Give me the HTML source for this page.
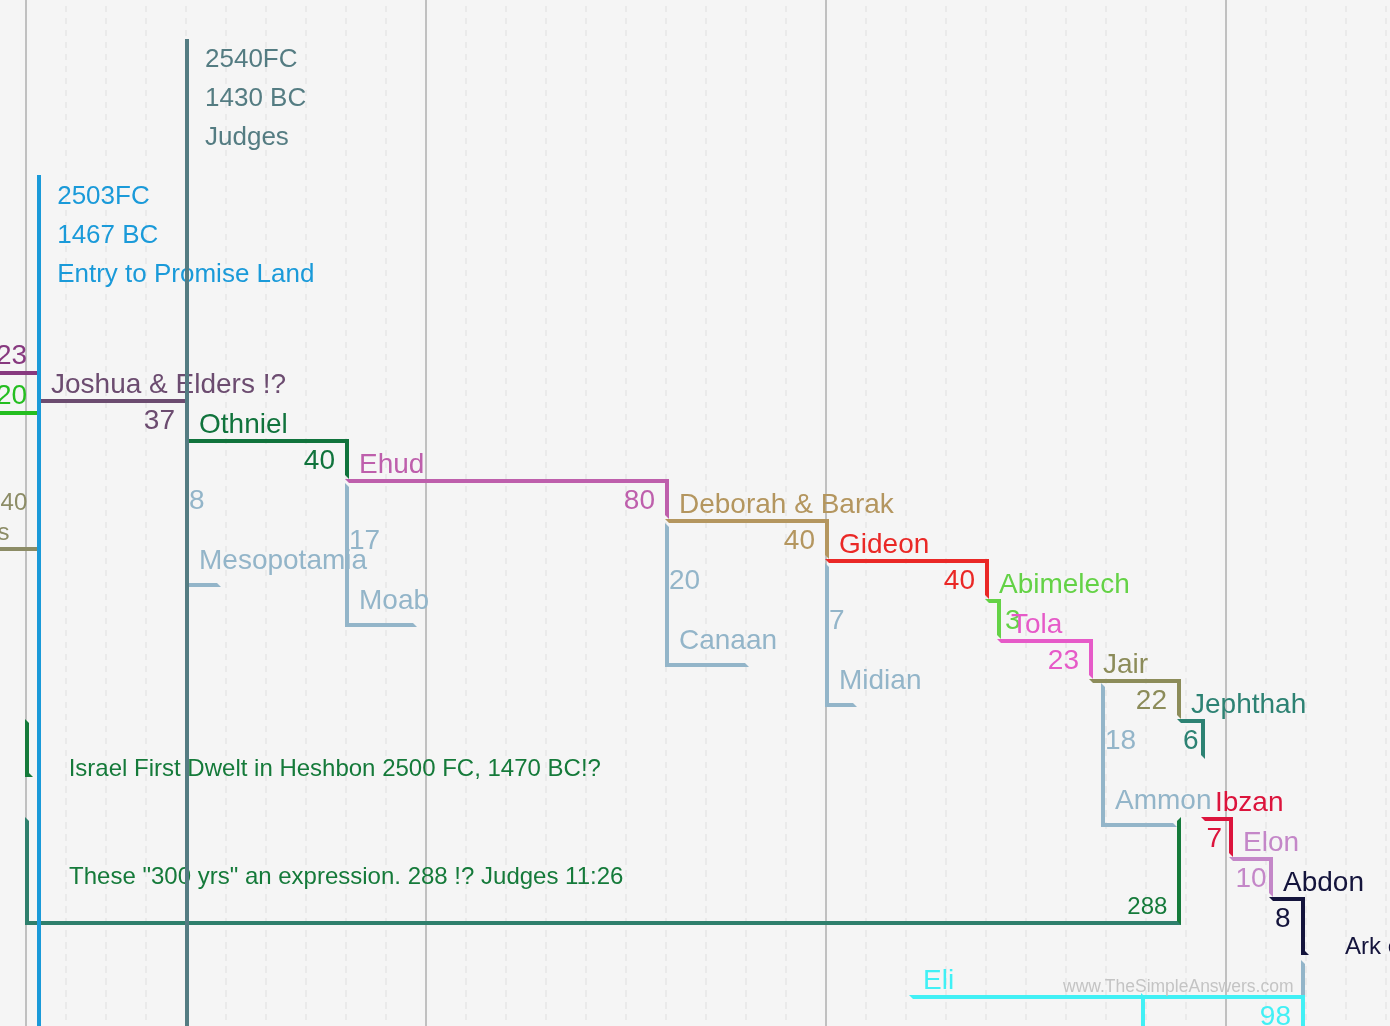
<!DOCTYPE html>
<html><head><meta charset="utf-8"><title>Judges Timeline</title>
<style>
html,body{margin:0;padding:0}
body{background:#f5f5f5;font-family:"Liberation Sans", Arial, sans-serif}
#c{position:relative;width:1390px;height:1026px;overflow:hidden;background:#f5f5f5}
.t{position:absolute;white-space:nowrap}
.b{position:absolute;box-sizing:border-box}
.v{position:absolute;width:4px;bottom:0}
.gs{position:absolute;top:0;bottom:0;width:2px;background:#c0c0c0}
.gd{position:absolute;top:5.5px;bottom:0;width:2px;background:repeating-linear-gradient(to bottom,#eaeaea 0,#eaeaea 6.5px,transparent 6.5px,transparent 12px)}
</style></head><body><div id="c">
<div class="gs" style="left:25px"></div>
<div class="gd" style="left:65px"></div>
<div class="gd" style="left:105px"></div>
<div class="gd" style="left:145px"></div>
<div class="gd" style="left:185px"></div>
<div class="gd" style="left:225px"></div>
<div class="gd" style="left:265px"></div>
<div class="gd" style="left:305px"></div>
<div class="gd" style="left:345px"></div>
<div class="gd" style="left:385px"></div>
<div class="gs" style="left:425px"></div>
<div class="gd" style="left:465px"></div>
<div class="gd" style="left:505px"></div>
<div class="gd" style="left:545px"></div>
<div class="gd" style="left:585px"></div>
<div class="gd" style="left:625px"></div>
<div class="gd" style="left:665px"></div>
<div class="gd" style="left:705px"></div>
<div class="gd" style="left:745px"></div>
<div class="gd" style="left:785px"></div>
<div class="gs" style="left:825px"></div>
<div class="gd" style="left:865px"></div>
<div class="gd" style="left:905px"></div>
<div class="gd" style="left:945px"></div>
<div class="gd" style="left:985px"></div>
<div class="gd" style="left:1025px"></div>
<div class="gd" style="left:1065px"></div>
<div class="gd" style="left:1105px"></div>
<div class="gd" style="left:1145px"></div>
<div class="gd" style="left:1185px"></div>
<div class="gs" style="left:1225px"></div>
<div class="gd" style="left:1265px"></div>
<div class="gd" style="left:1305px"></div>
<div class="gd" style="left:1345px"></div>
<div class="gd" style="left:1385px"></div>
<div class="b" style="left:-40px;top:335px;width:81px;height:40px;border-top:4px solid transparent;border-right:4px solid #87397f;border-bottom:4px solid #87397f;border-left:4px solid transparent"></div>
<div class="t" style="right:1362.80px;top:341.40px;font-size:28px;line-height:28px;color:#87397f;">23</div>
<div class="b" style="left:-40px;top:375px;width:81px;height:40px;border-top:4px solid transparent;border-right:4px solid #24be20;border-bottom:4px solid #24be20;border-left:4px solid transparent"></div>
<div class="t" style="right:1362.80px;top:381.40px;font-size:28px;line-height:28px;color:#24be20;">20</div>
<div class="b" style="left:-200px;top:471px;width:241px;height:80px;border-top:4px solid transparent;border-right:4px solid #8c8c66;border-bottom:4px solid #8c8c66;border-left:4px solid transparent"></div>
<div class="t" style="right:1362.70px;top:489.80px;font-size:24px;line-height:24px;color:#8c8c66;">40</div>
<div class="t" style="right:1380.40px;top:519.50px;font-size:24px;line-height:24px;color:#8c8c66;">Wilderness</div>
<div class="b" style="left:25px;top:719px;width:0px;height:58px;border-top:4px solid transparent;border-right:4px solid transparent;border-bottom:4px solid #157a3a;border-left:4px solid #157a3a"></div>
<div class="t" style="left:68.70px;top:755.80px;font-size:24px;line-height:24px;color:#157a3a;">Israel First Dwelt in Heshbon 2500 FC, 1470 BC!?</div>
<div class="b" style="left:25px;top:817px;width:1156px;height:108px;border-top:4px solid transparent;border-right:4px solid #157a3a;border-bottom:4px solid #2e7f6c;border-left:4px solid #2e7f6c"></div>
<div class="t" style="left:69.10px;top:863.70px;font-size:24px;line-height:24px;color:#157a3a;">These "300 yrs" an expression. 288 !? Judges 11:26</div>
<div class="t" style="right:222.60px;top:893.80px;font-size:24px;line-height:24px;color:#157a3a;">288</div>
<div class="b" style="left:37px;top:399px;width:152px;height:40px;border-top:4px solid #6c4c70;border-right:4px solid #6c4c70;border-bottom:4px solid transparent;border-left:4px solid transparent"></div>
<div class="t" style="left:51.00px;top:369.60px;font-size:28px;line-height:28px;color:#6c4c70;">Joshua &amp; Elders !?</div>
<div class="t" style="right:1215.00px;top:406.00px;font-size:28px;line-height:28px;color:#6c4c70;">37</div>
<div class="v" style="left:37px;top:175px;background:#1a9ad9"></div>
<div class="t" style="left:57.20px;top:181.60px;font-size:26px;line-height:26px;color:#1a9ad9;">2503FC</div>
<div class="t" style="left:57.20px;top:220.60px;font-size:26px;line-height:26px;color:#1a9ad9;">1467 BC</div>
<div class="t" style="left:57.20px;top:259.60px;font-size:26px;line-height:26px;color:#1a9ad9;">Entry to Promise Land</div>
<div class="b" style="left:185px;top:443px;width:36px;height:144px;border-top:4px solid transparent;border-right:4px solid transparent;border-bottom:4px solid #93b5c9;border-left:4px solid #93b5c9"></div>
<div class="t" style="left:189.00px;top:486.00px;font-size:28px;line-height:28px;color:#93b5c9;">8</div>
<div class="t" style="left:199.00px;top:545.60px;font-size:28px;line-height:28px;color:#93b5c9;">Mesopotamia</div>
<div class="b" style="left:185px;top:439px;width:164px;height:40px;border-top:4px solid #10733c;border-right:4px solid #10733c;border-bottom:4px solid transparent;border-left:4px solid transparent"></div>
<div class="t" style="left:199.00px;top:409.60px;font-size:28px;line-height:28px;color:#10733c;">Othniel</div>
<div class="t" style="right:1055.00px;top:446.00px;font-size:28px;line-height:28px;color:#10733c;">40</div>
<div class="b" style="left:345px;top:483px;width:72px;height:144px;border-top:4px solid transparent;border-right:4px solid transparent;border-bottom:4px solid #93b5c9;border-left:4px solid #93b5c9"></div>
<div class="t" style="left:349.00px;top:526.00px;font-size:28px;line-height:28px;color:#93b5c9;">17</div>
<div class="t" style="left:359.00px;top:585.60px;font-size:28px;line-height:28px;color:#93b5c9;">Moab</div>
<div class="b" style="left:345px;top:479px;width:324px;height:40px;border-top:4px solid #be5fac;border-right:4px solid #be5fac;border-bottom:4px solid transparent;border-left:4px solid transparent"></div>
<div class="t" style="left:359.00px;top:449.60px;font-size:28px;line-height:28px;color:#be5fac;">Ehud</div>
<div class="t" style="right:735.00px;top:486.00px;font-size:28px;line-height:28px;color:#be5fac;">80</div>
<div class="b" style="left:665px;top:523px;width:84px;height:144px;border-top:4px solid transparent;border-right:4px solid transparent;border-bottom:4px solid #93b5c9;border-left:4px solid #93b5c9"></div>
<div class="t" style="left:669.00px;top:566.00px;font-size:28px;line-height:28px;color:#93b5c9;">20</div>
<div class="t" style="left:679.00px;top:625.60px;font-size:28px;line-height:28px;color:#93b5c9;">Canaan</div>
<div class="b" style="left:665px;top:519px;width:164px;height:40px;border-top:4px solid #b4965f;border-right:4px solid #b4965f;border-bottom:4px solid transparent;border-left:4px solid transparent"></div>
<div class="t" style="left:679.00px;top:489.60px;font-size:28px;line-height:28px;color:#b4965f;">Deborah &amp; Barak</div>
<div class="t" style="right:575.00px;top:526.00px;font-size:28px;line-height:28px;color:#b4965f;">40</div>
<div class="b" style="left:825px;top:563px;width:32px;height:144px;border-top:4px solid transparent;border-right:4px solid transparent;border-bottom:4px solid #93b5c9;border-left:4px solid #93b5c9"></div>
<div class="t" style="left:829.00px;top:606.00px;font-size:28px;line-height:28px;color:#93b5c9;">7</div>
<div class="t" style="left:839.00px;top:665.60px;font-size:28px;line-height:28px;color:#93b5c9;">Midian</div>
<div class="b" style="left:825px;top:559px;width:164px;height:40px;border-top:4px solid #ea2826;border-right:4px solid #ea2826;border-bottom:4px solid transparent;border-left:4px solid transparent"></div>
<div class="t" style="left:839.00px;top:529.60px;font-size:28px;line-height:28px;color:#ea2826;">Gideon</div>
<div class="t" style="right:415.00px;top:566.00px;font-size:28px;line-height:28px;color:#ea2826;">40</div>
<div class="b" style="left:985px;top:599px;width:16px;height:40px;border-top:4px solid #64d246;border-right:4px solid #64d246;border-bottom:4px solid transparent;border-left:4px solid transparent"></div>
<div class="t" style="left:999.00px;top:569.60px;font-size:28px;line-height:28px;color:#64d246;">Abimelech</div>
<div class="t" style="left:1005.00px;top:606.00px;font-size:28px;line-height:28px;color:#64d246;">3</div>
<div class="b" style="left:997px;top:639px;width:96px;height:40px;border-top:4px solid #e65ac8;border-right:4px solid #e65ac8;border-bottom:4px solid transparent;border-left:4px solid transparent"></div>
<div class="t" style="left:1011.00px;top:609.60px;font-size:28px;line-height:28px;color:#e65ac8;">Tola</div>
<div class="t" style="right:311.00px;top:646.00px;font-size:28px;line-height:28px;color:#e65ac8;">23</div>
<div class="b" style="left:1101px;top:683px;width:76px;height:144px;border-top:4px solid transparent;border-right:4px solid transparent;border-bottom:4px solid #93b5c9;border-left:4px solid #93b5c9"></div>
<div class="t" style="left:1105.00px;top:726.00px;font-size:28px;line-height:28px;color:#93b5c9;">18</div>
<div class="t" style="left:1115.00px;top:785.60px;font-size:28px;line-height:28px;color:#93b5c9;">Ammon</div>
<div class="b" style="left:1089px;top:679px;width:92px;height:40px;border-top:4px solid #8c8c5a;border-right:4px solid #8c8c5a;border-bottom:4px solid transparent;border-left:4px solid transparent"></div>
<div class="t" style="left:1103.00px;top:649.60px;font-size:28px;line-height:28px;color:#8c8c5a;">Jair</div>
<div class="t" style="right:223.00px;top:686.00px;font-size:28px;line-height:28px;color:#8c8c5a;">22</div>
<div class="b" style="left:1177px;top:719px;width:28px;height:40px;border-top:4px solid #2d8273;border-right:4px solid #2d8273;border-bottom:4px solid transparent;border-left:4px solid transparent"></div>
<div class="t" style="left:1191.00px;top:689.60px;font-size:28px;line-height:28px;color:#2d8273;">Jephthah</div>
<div class="t" style="left:1183.00px;top:726.00px;font-size:28px;line-height:28px;color:#2d8273;">6</div>
<div class="b" style="left:1201px;top:817px;width:32px;height:40px;border-top:4px solid #dc143c;border-right:4px solid #dc143c;border-bottom:4px solid transparent;border-left:4px solid transparent"></div>
<div class="t" style="left:1215.00px;top:787.60px;font-size:28px;line-height:28px;color:#dc143c;">Ibzan</div>
<div class="t" style="left:1206.60px;top:824.00px;font-size:28px;line-height:28px;color:#dc143c;">7</div>
<div class="b" style="left:1229px;top:857px;width:44px;height:40px;border-top:4px solid #c487c8;border-right:4px solid #c487c8;border-bottom:4px solid transparent;border-left:4px solid transparent"></div>
<div class="t" style="left:1243.00px;top:827.60px;font-size:28px;line-height:28px;color:#c487c8;">Elon</div>
<div class="t" style="left:1235.40px;top:864.00px;font-size:28px;line-height:28px;color:#c487c8;">10</div>
<div class="b" style="left:1269px;top:897px;width:36px;height:40px;border-top:4px solid #14143c;border-right:4px solid #14143c;border-bottom:4px solid transparent;border-left:4px solid transparent"></div>
<div class="t" style="left:1283.00px;top:867.60px;font-size:28px;line-height:28px;color:#14143c;">Abdon</div>
<div class="t" style="left:1275.00px;top:904.00px;font-size:28px;line-height:28px;color:#14143c;">8</div>
<div class="b" style="left:1301px;top:897px;width:0px;height:58px;border-top:4px solid transparent;border-right:4px solid transparent;border-bottom:4px solid #14143c;border-left:4px solid #14143c"></div>
<div class="t" style="left:1345.00px;top:934.00px;font-size:24px;line-height:24px;color:#14143c;white-space:nowrap">Ark captured</div>
<div class="b" style="left:1301px;top:959.5px;width:164px;height:144px;border-top:4px solid transparent;border-right:4px solid transparent;border-bottom:4px solid #93b5c9;border-left:4px solid #93b5c9"></div>
<div class="b" style="left:1141px;top:993px;width:120px;height:60px;border-top:4px solid transparent;border-right:4px solid transparent;border-bottom:4px solid transparent;border-left:4px solid #41f0f5"></div>
<div class="b" style="left:909px;top:995px;width:396px;height:40px;border-top:4px solid #41f0f5;border-right:4px solid #41f0f5;border-bottom:4px solid transparent;border-left:4px solid transparent"></div>
<div class="t" style="left:923.00px;top:965.60px;font-size:28px;line-height:28px;color:#41f0f5;">Eli</div>
<div class="t" style="right:99.00px;top:1002.00px;font-size:28px;line-height:28px;color:#41f0f5;">98</div>
<div class="t" style="left:1063.00px;top:978.00px;font-size:17.5px;line-height:17.5px;color:#c4c4c4;">www.TheSimpleAnswers.com</div>
<div class="v" style="left:185px;top:39px;background:#547c82"></div>
<div class="t" style="left:205.00px;top:45.40px;font-size:26px;line-height:26px;color:#547c82;">2540FC</div>
<div class="t" style="left:205.00px;top:84.40px;font-size:26px;line-height:26px;color:#547c82;">1430 BC</div>
<div class="t" style="left:205.00px;top:123.40px;font-size:26px;line-height:26px;color:#547c82;">Judges</div>
</div></body></html>
